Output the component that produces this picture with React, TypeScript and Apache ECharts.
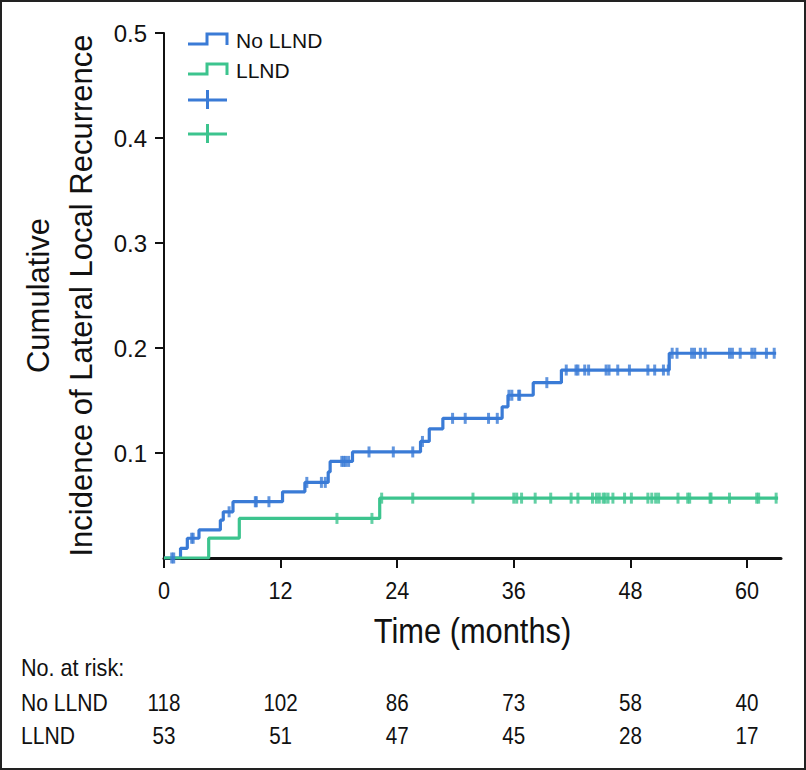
import React, { useEffect, useRef } from "react";
import * as echarts from "echarts";

const BLUE = "#3a7bd6";
const GREEN = "#3cc48e";

const months = [0, 12, 24, 36, 48, 60];
const yTicks = [0.1, 0.2, 0.3, 0.4, 0.5];
const riskNoLLND = [118, 102, 86, 73, 58, 40];
const riskLLND = [53, 51, 47, 45, 28, 17];

// [time (months), cumulative incidence] at each event (step up)
const noLLNDSteps: [number, number][] = [
  [0, 0],
  [1.7, 0.0092],
  [2.4, 0.0188],
  [3.6, 0.0267],
  [5.8, 0.036],
  [6.1, 0.044],
  [7.1, 0.0536],
  [12.2, 0.063],
  [14.5, 0.072],
  [16.9, 0.082],
  [17.1, 0.092],
  [19.4, 0.101],
  [26.4, 0.111],
  [27.3, 0.123],
  [28.7, 0.133],
  [34.8, 0.144],
  [35.4, 0.155],
  [38.0, 0.167],
  [40.9, 0.179],
  [52.0, 0.195],
  [63.0, 0.195],
];

const llndSteps: [number, number][] = [
  [0, 0],
  [4.6, 0.0189],
  [7.75, 0.0377],
  [22.2, 0.057],
  [63.2, 0.057],
];

const noLLNDCensor = [
  0.8, 1.0, 2.85, 3.0, 6.7, 9.4, 9.5, 10.8, 14.7, 16.2, 16.6, 18.3, 18.5,
  18.7, 19.0, 21.1, 23.6, 25.6, 26.6, 29.7, 31.0, 33.4, 34.3, 35.5, 35.8, 36.5,
  36.6, 39.4, 41.4, 42.4, 42.6, 43.3, 43.7, 45.5, 45.8, 46.7, 47.9, 49.8, 50.5,
  51.4, 51.9, 52.3, 52.8, 54.3, 54.6, 55.2, 55.7, 58.2, 58.5, 59.3, 60.5, 60.8,
  62.0, 62.8,
];

const llndCensor = [
  17.8, 21.4, 22.4, 25.6, 31.8, 36.0, 36.3, 36.8, 38.2, 39.8, 41.9, 42.6, 44.1,
  44.5, 44.8, 45.2, 45.4, 45.7, 46.2, 47.4, 48.1, 49.8, 50.2, 50.6, 50.9, 52.9,
  53.9, 54.1, 56.2, 56.3, 58.2, 61.0, 61.2, 63.0,
];

function valueAt(steps: [number, number][], t: number): number {
  let v = 0;
  for (const [x, y] of steps) {
    if (x <= t) v = y;
  }
  return v;
}

const SANS = "Liberation Sans, Arial, Helvetica, sans-serif";
const COND = 0.86;

export default function App() {
  const ref = useRef<HTMLDivElement>(null);
  useEffect(() => {
    if (!ref.current) return;
    const chart = echarts.init(ref.current, undefined, { renderer: "svg" });
    chart.setOption({
      animation: false,
      backgroundColor: "#fff",
      grid: { left: 164, right: 25, top: 33, bottom: 212 },
      xAxis: {
        type: "value",
        min: 0,
        max: 63.5,
        interval: 12,
        axisLine: { show: true, lineStyle: { color: "#111", width: 3 } },
        axisTick: {
          show: true,
          length: 10,
          lineStyle: { color: "#111", width: 2 },
          customValues: months,
        },
        axisLabel: { show: false },
        splitLine: { show: false },
      },
      yAxis: {
        type: "value",
        min: 0,
        max: 0.5,
        interval: 0.1,
        axisLine: { show: true, lineStyle: { color: "#111", width: 2 } },
        axisTick: {
          show: true,
          length: 9,
          lineStyle: { color: "#111", width: 2 },
          customValues: yTicks,
        },
        axisLabel: {
          fontSize: 24,
          fontFamily: SANS,
          color: "#111",
          margin: 17,
          customValues: yTicks,
          formatter: (v: number) => v.toFixed(1),
        },
        splitLine: { show: false },
        name: "Cumulative\nIncidence of Lateral Local Recurrence",
        nameLocation: "middle",
        nameRotate: 90,
        nameGap: 55,
        nameTextStyle: {
          fontSize: 31,
          lineHeight: 43,
          fontFamily: SANS,
          color: "#111",
          align: "center",
        },
      },
      series: [
        {
          type: "line",
          step: "end",
          data: noLLNDSteps,
          showSymbol: false,
          lineStyle: { color: BLUE, width: 3.2 },
          z: 3,
        },
        {
          type: "line",
          step: "end",
          data: llndSteps,
          showSymbol: false,
          lineStyle: { color: GREEN, width: 3.2 },
          z: 3,
        },
        {
          type: "scatter",
          data: noLLNDCensor.map((t) => [t, valueAt(noLLNDSteps, t)]),
          symbol: "rect",
          symbolSize: [3, 11],
          itemStyle: { color: BLUE },
          z: 4,
        },
        {
          type: "scatter",
          data: llndCensor.map((t) => [t, valueAt(llndSteps, t)]),
          symbol: "rect",
          symbolSize: [3, 11],
          itemStyle: { color: GREEN },
          z: 4,
        },
      ],
    });

    const px = (m: number) => chart.convertToPixel({ xAxisIndex: 0 }, m) as number;
    const condText = (x: number, y: number, text: string, size: number, align: string, sx = COND) => ({
      type: "text",
      x,
      y,
      scaleX: sx,
      style: {
        text,
        fontSize: size,
        fontFamily: SANS,
        fill: "#111",
        align,
        verticalAlign: "middle",
      },
    });

    const tickLabels = months.map((m) => condText(px(m), 591, String(m), 24, "center", 0.9));
    const riskRow1 = months.map((m, i) => condText(px(m), 703, String(riskNoLLND[i]), 24, "center"));
    const riskRow2 = months.map((m, i) => condText(px(m), 736, String(riskLLND[i]), 24, "center"));
    const centerX = (px(0) + px(63.5)) / 2;

    chart.setOption({
      graphic: [
        {
          type: "rect",
          shape: { x: 1, y: 1, width: 804, height: 768 },
          style: { fill: "none", stroke: "#222", lineWidth: 2 },
          silent: true,
        },
        {
          type: "polyline",
          shape: { points: [[188, 44], [207, 44], [207, 34], [227, 34], [227, 45]] },
          style: { stroke: BLUE, lineWidth: 3, fill: "none" },
        },
        {
          type: "text",
          x: 236,
          y: 40,
          style: { text: "No LLND", fontSize: 21, fontFamily: SANS, fill: "#111", verticalAlign: "middle" },
        },
        {
          type: "polyline",
          shape: { points: [[188, 74], [207, 74], [207, 64], [227, 64], [227, 75]] },
          style: { stroke: GREEN, lineWidth: 3, fill: "none" },
        },
        {
          type: "text",
          x: 236,
          y: 70,
          style: { text: "LLND", fontSize: 21, fontFamily: SANS, fill: "#111", verticalAlign: "middle" },
        },
        {
          type: "line",
          shape: { x1: 188, y1: 100, x2: 227, y2: 100 },
          style: { stroke: BLUE, lineWidth: 3 },
        },
        {
          type: "line",
          shape: { x1: 207.5, y1: 90, x2: 207.5, y2: 109 },
          style: { stroke: BLUE, lineWidth: 3 },
        },
        {
          type: "line",
          shape: { x1: 188, y1: 134, x2: 227, y2: 134 },
          style: { stroke: GREEN, lineWidth: 3 },
        },
        {
          type: "line",
          shape: { x1: 207.5, y1: 124, x2: 207.5, y2: 143 },
          style: { stroke: GREEN, lineWidth: 3 },
        },
        ...tickLabels,
        condText(centerX, 631, "Time (months)", 35, "center", 0.88),
        condText(21, 668, "No. at risk:", 24, "left", 0.9),
        condText(21, 703, "No LLND", 24, "left", 0.88),
        condText(21, 736, "LLND", 24, "left", 0.88),
        ...riskRow1,
        ...riskRow2,
      ],
    });
    return () => chart.dispose();
  }, []);
  return (
    <div
      ref={ref}
      style={{ position: "fixed", left: 0, top: 0, width: 806, height: 770 }}
    />
  );
}
